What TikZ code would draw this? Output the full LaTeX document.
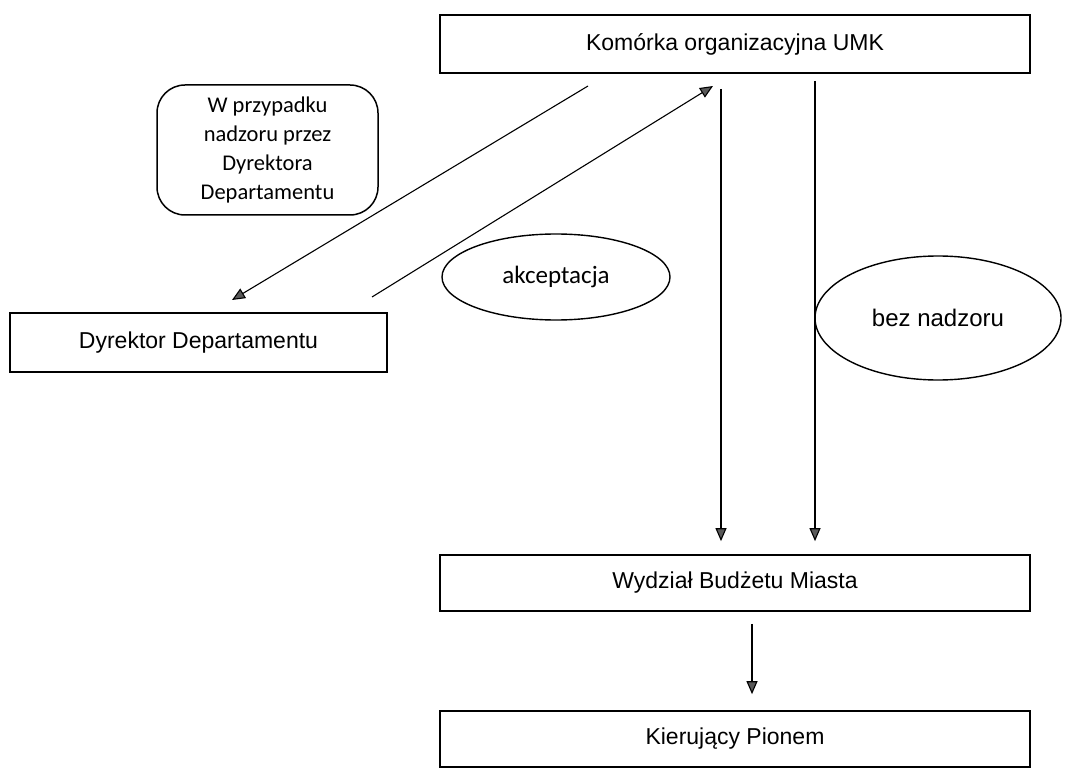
\documentclass[tikz,border=0pt]{standalone}
\usepackage{fontspec}
\setmainfont{Liberation Sans}
\newfontfamily\calib{Carlito}
\usetikzlibrary{arrows.meta,shapes.geometric}
\begin{document}
\begin{tikzpicture}[x=1pt,y=-1pt,
  box/.style={draw=black,line width=1.7pt,rectangle,inner sep=0pt,font=\fontsize{23}{27}\selectfont},
  rbox/.style={draw=black,line width=1.5pt,rectangle,rounded corners=28pt,inner sep=0pt,align=center,
     font=\calib\fontsize{22.5}{29}\selectfont},
  oval/.style={draw=black,line width=1.4pt,ellipse,inner sep=0pt},
  conn/.style={draw=black,line width=1.1pt,-{Triangle[length=13pt,width=11pt,fill=black!65]}},
]
\useasboundingbox (0,0) rectangle (1067,783);
\node[box,minimum width=590pt,minimum height=58pt] (top) at (735,44) {Komórka organizacyjna UMK};
\node[box,minimum width=590pt,minimum height=56pt] (wydz) at (735,583) {Wydział Budżetu Miasta};
\node[box,minimum width=590pt,minimum height=56pt] (kier) at (735,739) {Kierujący Pionem};
\node[box,minimum width=377pt,minimum height=59pt] (dyr) at (198.5,342.5) {Dyrektor Departamentu};
\node[rbox,minimum width=221pt,minimum height=130pt] (note) at (267.5,150) {W przypadku\\nadzoru przez\\Dyrektora\\Departamentu};
\node[oval,minimum width=228pt,minimum height=86pt,font=\calib\fontsize{25}{28}\selectfont] (akc) at (556,277) {akceptacja};
\node[oval,minimum width=246pt,minimum height=124pt,font=\fontsize{24}{28}\selectfont] (bez) at (938,318) {bez nadzoru};
\coordinate (d1s) at (588,86);
\coordinate (d1e) at (232,300);
\coordinate (d2s) at (372,297);
\coordinate (d2e) at (713,86);
\coordinate (v1) at (721,0);
\coordinate (v2) at (815,0);
\coordinate (v3) at (752,0);
\draw[conn] (d1s) -- (d1e);
\draw[conn] (d2s) -- (d2e);
\draw[conn,shorten <=15pt,shorten >=13pt] (top.south -| v1) -- (wydz.north -| v1);
\draw[conn,shorten <=7pt,shorten >=13pt] (top.south -| v2) -- (wydz.north -| v2);
\draw[conn,shorten <=12pt,shorten >=16pt] (wydz.south -| v3) -- (kier.north -| v3);
\end{tikzpicture}
\end{document}
